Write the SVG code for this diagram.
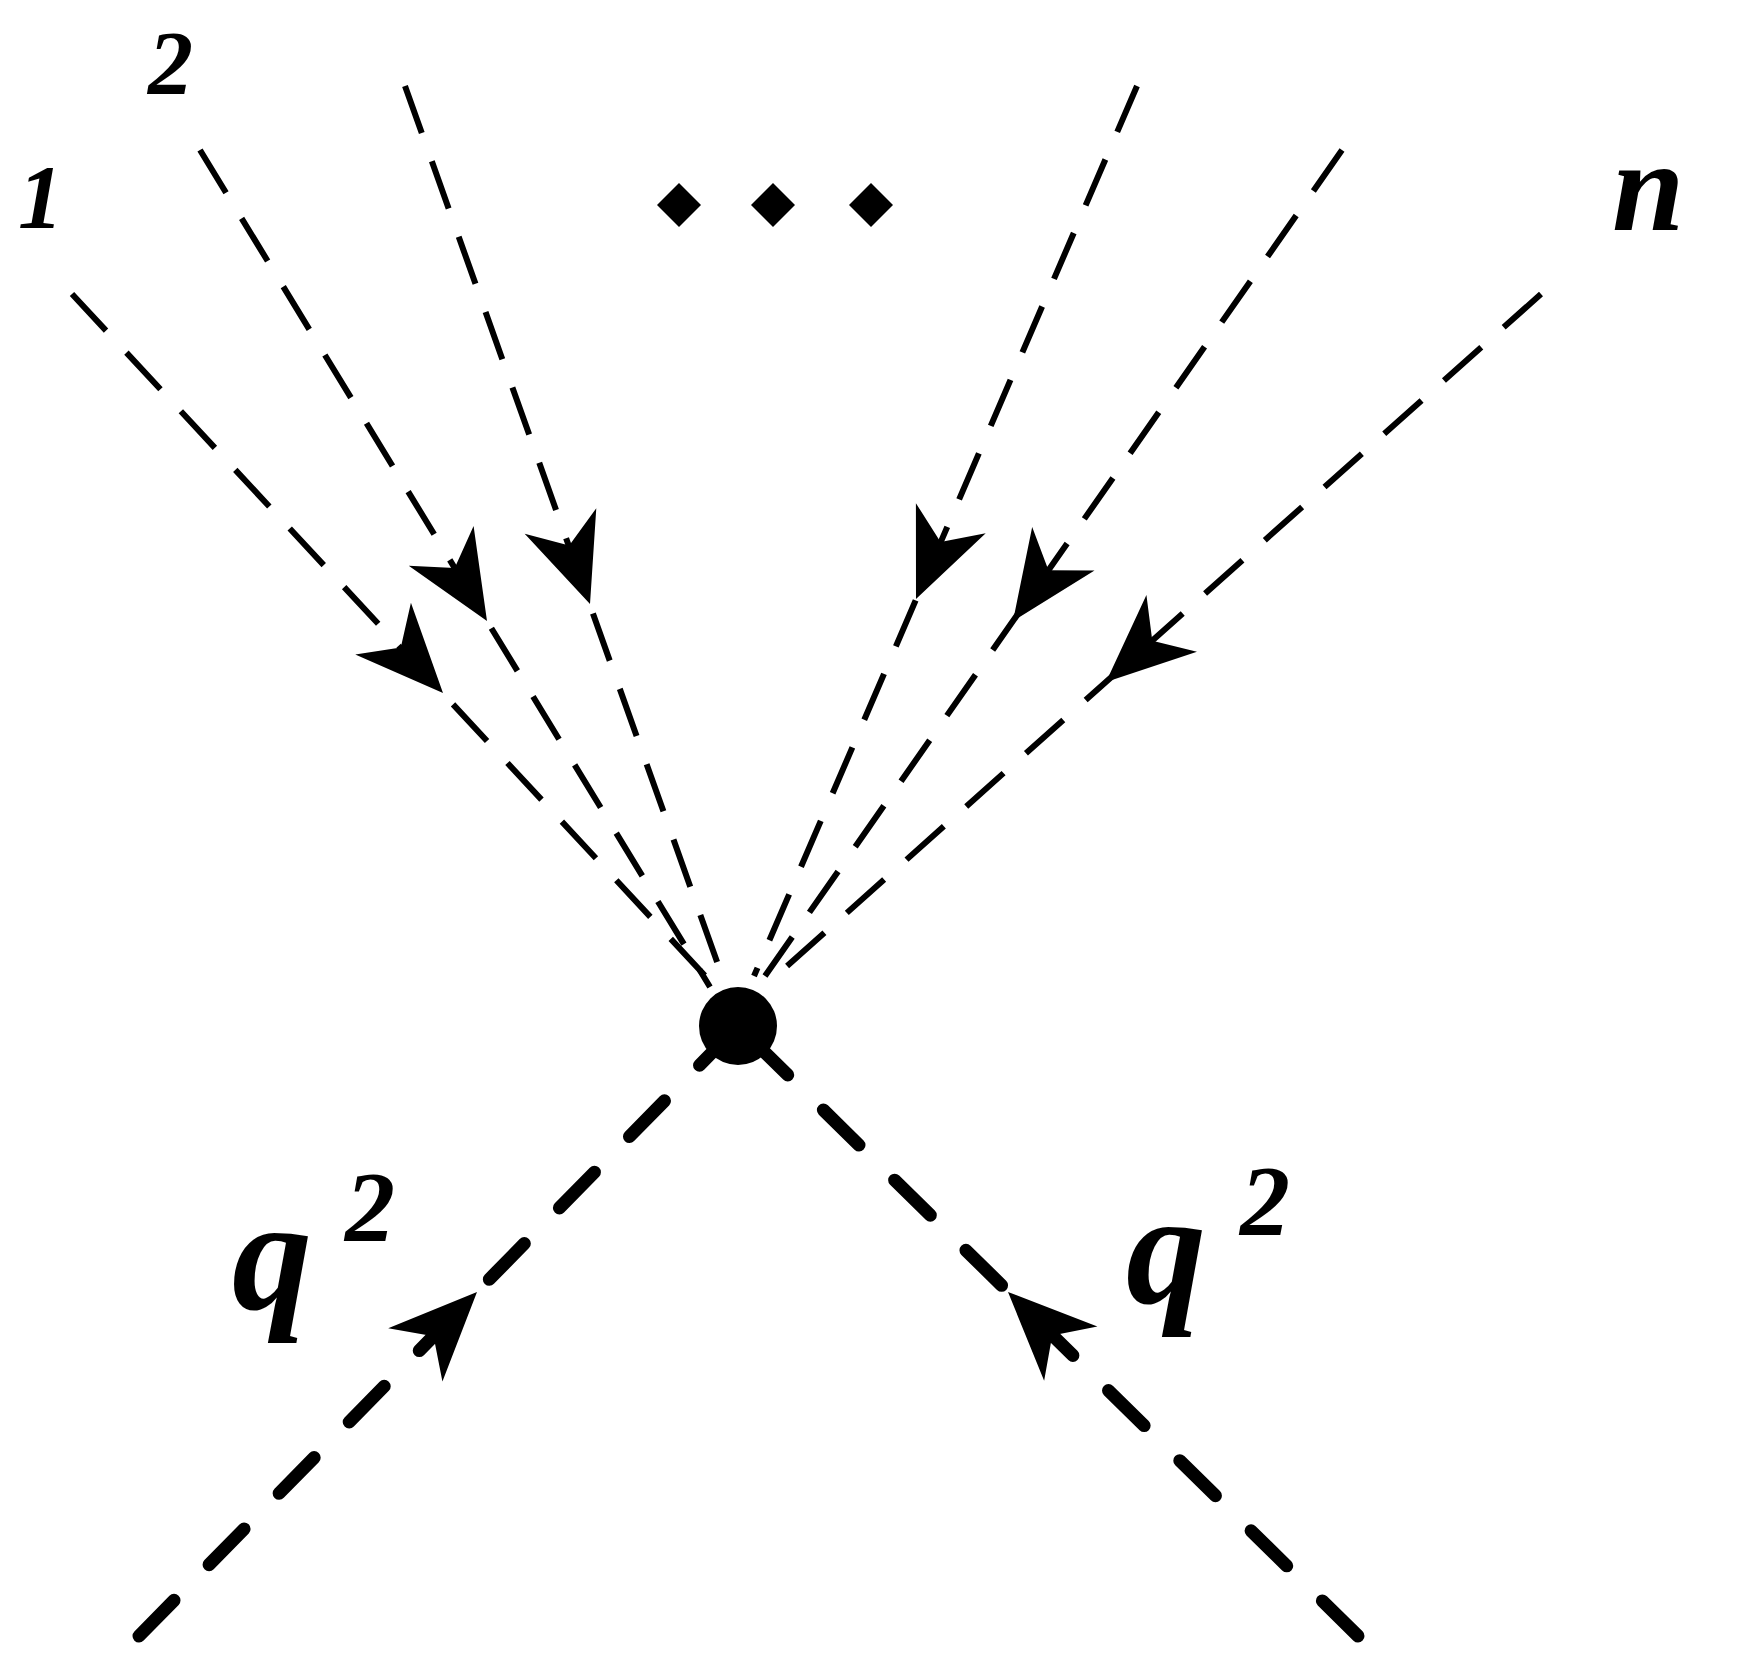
<svg xmlns="http://www.w3.org/2000/svg" width="1739" height="1662" viewBox="0 0 1739 1662">
<style>
.thin{stroke:#000;stroke-width:6;stroke-dasharray:50 30;fill:none}
.thick{stroke:#000;stroke-width:13;stroke-dasharray:50 50;stroke-linecap:round;fill:none}
.lbl{font-family:"Liberation Serif",serif;font-style:italic;font-weight:bold;fill:#000}
</style>
<defs>
<path id="ah" d="M0,0 L-88,-38 L-62,0 L-88,38 Z" fill="#000"/>
</defs>
<rect width="1739" height="1662" fill="#fff"/>
<g id="connectors">
<line class="thin" x1="72" y1="294" x2="721" y2="993"/>
<line class="thin" x1="200" y1="150" x2="710" y2="987"/>
<line class="thin" x1="405" y1="86" x2="726" y2="987"/>
<line class="thin" x1="1137" y1="86" x2="754" y2="976"/>
<line class="thin" x1="1342" y1="150" x2="765" y2="976"/>
<line class="thin" x1="1541" y1="294" x2="776" y2="976"/>
<line class="thick" x1="139" y1="1636" x2="738" y2="1026"/>
<line class="thick" x1="1358" y1="1636" x2="738" y2="1026"/>
<use href="#ah" transform="translate(443,693) rotate(47.1)"/>
<use href="#ah" transform="translate(487,621) rotate(58.6)"/>
<use href="#ah" transform="translate(590,604) rotate(70.4)"/>
<use href="#ah" transform="translate(916,599) rotate(113.3)"/>
<use href="#ah" transform="translate(1013,621) rotate(124.9)"/>
<use href="#ah" transform="translate(1106,682) rotate(138.3)"/>
<use href="#ah" transform="translate(477,1292) rotate(-45.5)"/>
<use href="#ah" transform="translate(1008,1292) rotate(-135.5)"/>
</g>
<g id="vertex"><circle cx="738" cy="1026" r="39" fill="#000"/></g>
<g id="dots" fill="#000">
<polygon points="679,183 701,205 679,227 657,205"/>
<polygon points="773,183 795,205 773,227 751,205"/>
<polygon points="871,183 893,205 871,227 849,205"/>
</g>
<g id="labels">
<text class="lbl" x="18" y="228" font-size="90">1</text>
<text class="lbl" x="148" y="94" font-size="90">2</text>
<text class="lbl" x="1612" y="230" font-size="130">n</text>
<text class="lbl" x="232" y="1309" font-size="160">q</text>
<text class="lbl" x="345" y="1240" font-size="100" font-style="normal">2</text>
<text class="lbl" x="1126" y="1303" font-size="160">q</text>
<text class="lbl" x="1240" y="1234" font-size="100" font-style="normal">2</text>
</g>
</svg>
